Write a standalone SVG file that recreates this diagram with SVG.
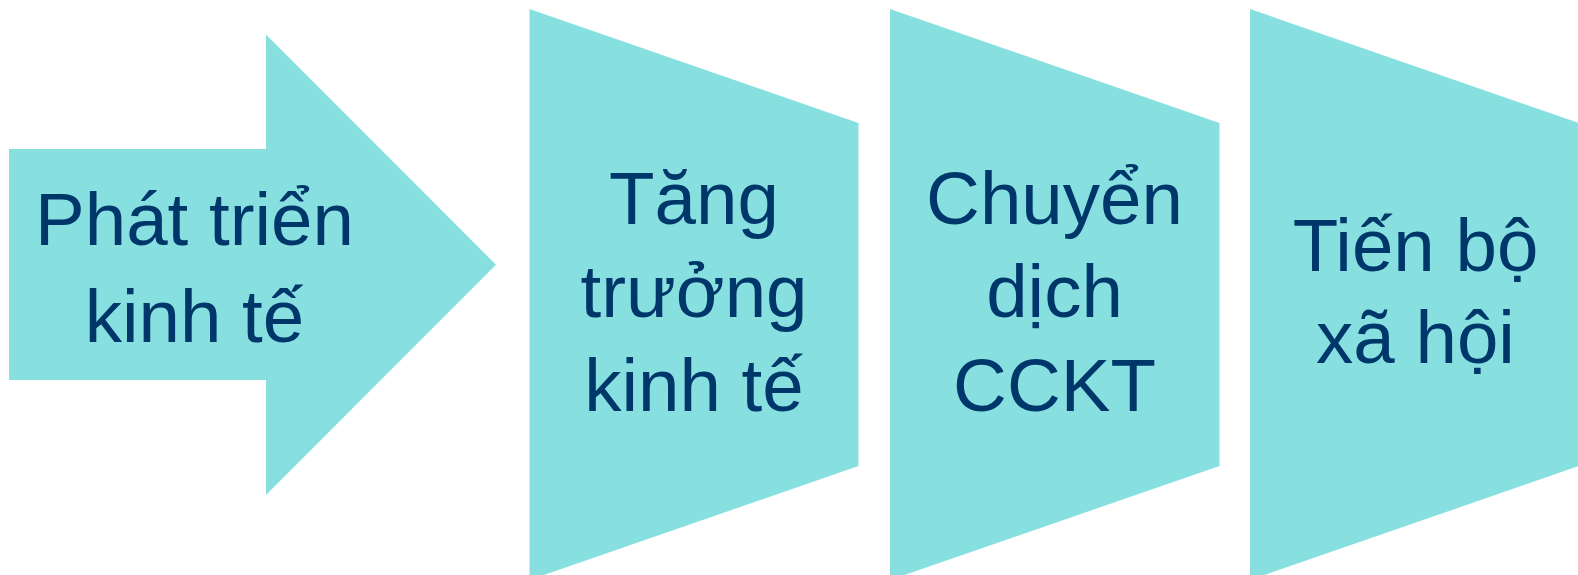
<svg xmlns="http://www.w3.org/2000/svg" width="1578" height="575" viewBox="0 0 1578 575">
<style>
.shape{fill:#87E0DF;stroke:none}
.lbl{font-family:"Liberation Sans",Arial,sans-serif;font-size:74.5px;fill:#00376B;text-anchor:middle}
</style>
<rect width="1578" height="575" fill="#FFFFFF"/>
<g id="connectors"></g>
<g id="node-phat-trien">
<polygon class="shape" points="9,149 266,149 266,34.5 496,264.7 266,495 266,380 9,380"/>
<text class="lbl" x="194.5" y="245">Phát triển</text>
<text class="lbl" x="194.5" y="342.3">kinh tế</text>
</g>
<g id="node-tang-truong">
<polygon class="shape" points="529.5,9 858.5,123 858.5,466 529.5,580"/>
<text class="lbl" x="694" y="224">Tăng</text>
<text class="lbl" x="694" y="317">trưởng</text>
<text class="lbl" x="694" y="410.5">kinh tế</text>
</g>
<g id="node-chuyen-dich">
<polygon class="shape" points="890,9 1219.5,123 1219.5,466 890,580"/>
<text class="lbl" x="1054.5" y="224">Chuyển</text>
<text class="lbl" x="1054.5" y="317">dịch</text>
<text class="lbl" x="1054.5" y="410.5">CCKT</text>
</g>
<g id="node-tien-bo">
<polygon class="shape" points="1250,9 1579,123 1579,466 1250,580"/>
<text class="lbl" x="1415.5" y="270.7">Tiến bộ</text>
<text class="lbl" x="1415.5" y="363.3">xã hội</text>
</g>
</svg>
